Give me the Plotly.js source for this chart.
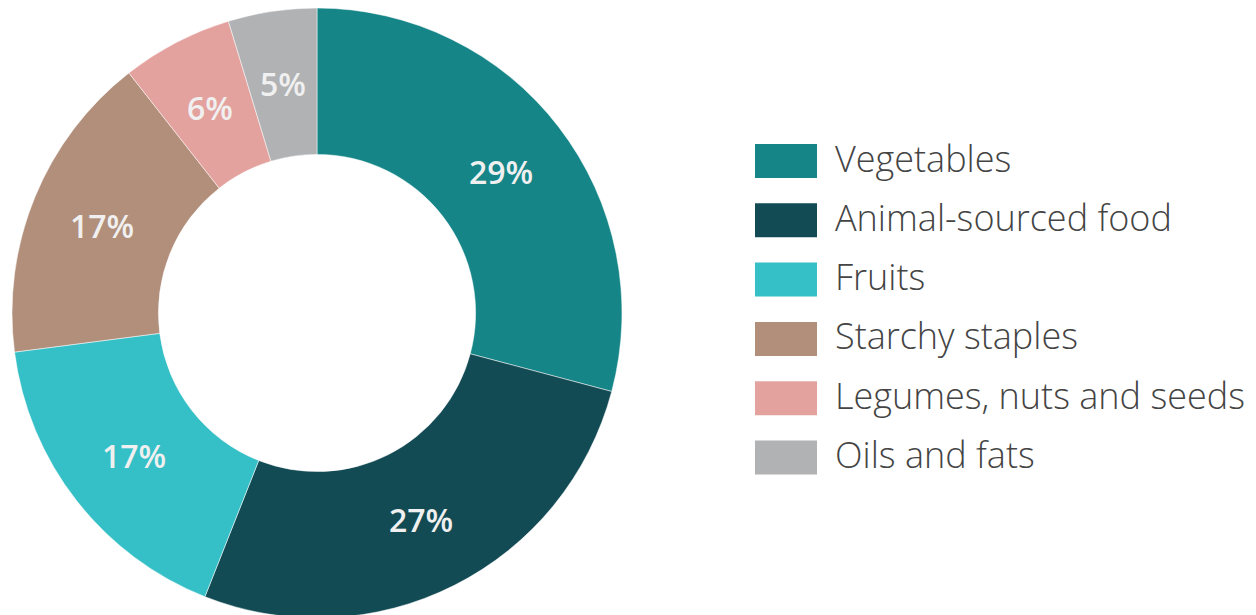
<!DOCTYPE html>
<html>
<head>
<meta charset="utf-8">
<script src="https://cdn.plot.ly/plotly-3.0.1.min.js"></script>
<style>html,body{margin:0;padding:0;background:#fff;overflow:hidden;}#chart{width:1256px;height:618px;}</style>
</head>
<body>
<div id="chart"></div>
<script>
const categories = ["Vegetables", "Animal-sourced food", "Fruits", "Starchy staples", "Legumes, nuts and seeds", "Oils and fats"];
const shares = [29.2, 26.9, 17.0, 16.5, 5.9, 4.7];
const shareLabels = ["29%", "27%", "17%", "17%", "6%", "5%"];
const colors = ["#158587", "#134b55", "#35bfc6", "#b18f7b", "#e4a29f", "#b1b2b4"];

const W = 1256, H = 618;
const margin = { l: 0, r: 0, t: 8, b: 0 };
const plotH = H - margin.t - margin.b;
const domainX = [0, 634 / W];
const holeFrac = 0.52;

const trace = {
  type: "pie",
  labels: categories,
  values: shares,
  textinfo: "none",
  hole: holeFrac,
  sort: false,
  direction: "clockwise",
  rotation: 0,
  marker: { colors: colors, line: { color: "#ffffff", width: 0.5 } },
  domain: { x: domainX, y: [0, 1] },
  showlegend: false,
  hoverinfo: "label+percent"
};

// Percentage labels at the middle of each ring segment (derived from the data)
const annotations = [];
const total = shares.reduce((a, b) => a + b, 0);
const R = Math.min(plotH, (domainX[1] - domainX[0]) * W) / 2;
const cx = (domainX[0] + domainX[1]) / 2 * W;
const cy = margin.t + plotH / 2;
const rMid = R * (1 + holeFrac) / 2;
let cum = 0;
shares.forEach((v, i) => {
  const midAng = (cum + v / 2) / total * 2 * Math.PI;
  cum += v;
  const px = cx + rMid * Math.sin(midAng);
  const py = cy - rMid * Math.cos(midAng);
  annotations.push({
    xref: "paper", yref: "paper",
    x: px / W, y: (H - margin.b - py) / plotH,
    xanchor: "center", yanchor: "middle",
    text: shareLabels[i], showarrow: false,
    font: { family: "Open Sans", size: 32, color: "#f0f0f0", weight: 600 }
  });
});

// Custom legend with large swatches
const shapes = [];
const legTop = 161, legStep = 59.3;
categories.forEach((c, i) => {
  const ly = legTop + i * legStep;
  shapes.push({
    type: "rect", xref: "paper", yref: "paper",
    x0: 755 / W, x1: 817 / W,
    y0: (H - margin.b - (ly + 17)) / plotH, y1: (H - margin.b - (ly - 17)) / plotH,
    fillcolor: colors[i], line: { width: 0 }
  });
  annotations.push({
    xref: "paper", yref: "paper",
    x: 833 / W, y: (H - margin.b - (ly - 3)) / plotH,
    xanchor: "left", yanchor: "middle",
    text: c, showarrow: false,
    font: { family: "Open Sans", size: 36, color: "#444444", weight: 300 }
  });
});

const layout = {
  width: W, height: H,
  margin: margin,
  paper_bgcolor: "#ffffff",
  plot_bgcolor: "#ffffff",
  shapes: shapes,
  annotations: annotations
};

Plotly.newPlot("chart", [trace], layout, { displayModeBar: false, staticPlot: true });
</script>
</body>
</html>
